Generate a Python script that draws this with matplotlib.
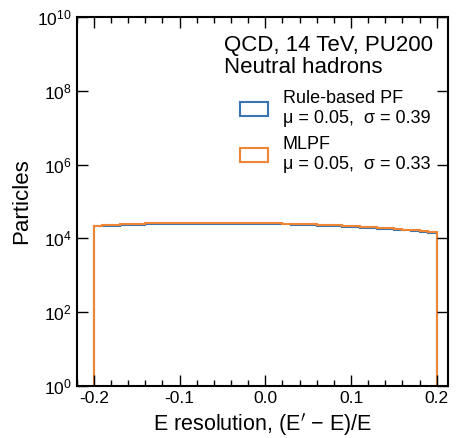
import numpy as np
import matplotlib.pyplot as plt
from matplotlib.patches import Patch

plt.rcParams['font.family'] = ['Liberation Sans', 'DejaVu Sans']

# 40 bins of width 0.01 between -0.2 and 0.2, counts in units of 1e4
bin_edges = np.linspace(-0.2, 0.2, 41)
pf_counts = [2.10, 2.16, 2.21, 2.26, 2.30, 2.34, 2.38, 2.41, 2.44, 2.46,
             2.47, 2.48, 2.49, 2.50, 2.50, 2.49, 2.49, 2.48, 2.47, 2.45,
             2.43, 2.41, 2.38, 2.35, 2.31, 2.27, 2.23, 2.18, 2.13, 2.08,
             2.02, 1.96, 1.90, 1.84, 1.78, 1.71, 1.64, 1.57, 1.50, 1.43]
mlpf_counts = [2.22, 2.28, 2.34, 2.39, 2.44, 2.49, 2.53, 2.57, 2.60, 2.63,
               2.65, 2.66, 2.67, 2.68, 2.68, 2.67, 2.66, 2.65, 2.63, 2.61,
               2.58, 2.55, 2.52, 2.48, 2.44, 2.40, 2.35, 2.30, 2.24, 2.19,
               2.13, 2.06, 2.00, 1.93, 1.86, 1.79, 1.72, 1.64, 1.57, 1.50]
labels = ["Rule-based PF\nμ = 0.05,  σ = 0.39", "MLPF\nμ = 0.05,  σ = 0.33"]
colors = ["#3b75af", "#ef8636"]

fig = plt.figure(figsize=(4.57, 4.38), dpi=100)
ax = fig.add_axes([0.168, 0.119, 0.812, 0.842])

ax.stairs(np.array(pf_counts) * 1e4, bin_edges, color=colors[0], lw=1.5, baseline=0)
ax.stairs(np.array(mlpf_counts) * 1e4, bin_edges, color=colors[1], lw=1.5, baseline=0)

ax.set_yscale('log')
ax.set_ylim(1, 1e10)
ax.set_xlim(-0.22, 0.213)
ax.set_yticks([1e0, 1e2, 1e4, 1e6, 1e8, 1e10])
ax.yaxis.set_minor_locator(plt.NullLocator())
ax.set_xticks([-0.2, -0.1, 0.0, 0.1, 0.2])
ax.set_xticks(np.arange(-0.22, 0.213, 0.02), minor=True)
ax.set_xticklabels(["-0.2", "-0.1", "0.0", "0.1", "0.2"])
ax.tick_params(which='both', direction='in', top=True, right=True, labelsize=12.5)
ax.tick_params(which='major', length=8, width=1)
ax.tick_params(which='minor', length=4, width=1)
for s in ax.spines.values():
    s.set_linewidth(1.5)

ax.set_xlabel("E resolution, (E$^{\\prime}$ − E)/E", fontsize=15.5)
ax.set_ylabel("Particles", fontsize=16)

ax.text(0.396, 0.952, "QCD, 14 TeV, PU200\nNeutral hadrons", transform=ax.transAxes,
        fontsize=16, va='top', ha='left', linespacing=1.1)

handles = [Patch(facecolor='none', edgecolor=c, lw=1.5) for c in colors]
ax.legend(handles, labels, loc='upper left', bbox_to_anchor=(0.395, 0.845),
          frameon=False, fontsize=13, handlelength=1.6, handleheight=0.8,
          labelspacing=0.5, handletextpad=0.8)

fig.savefig('out.png', dpi=100)
